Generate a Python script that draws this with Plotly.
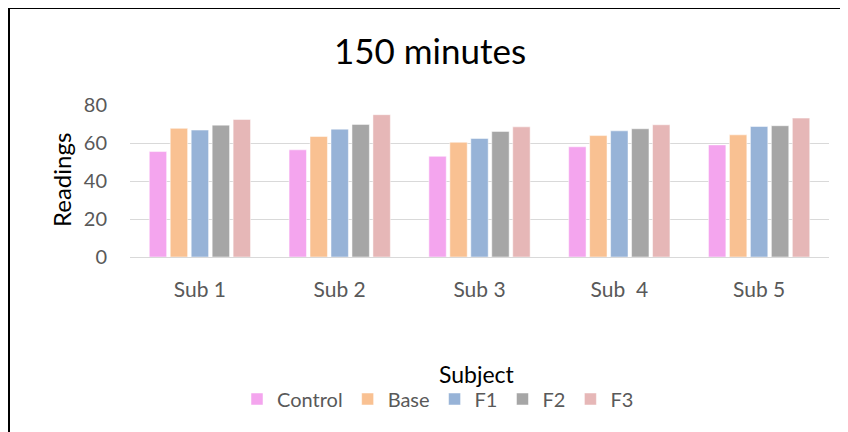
import plotly.graph_objects as go

categories = ["Sub 1", "Sub 2", "Sub 3", "Sub  4", "Sub 5"]
control = [55.5, 56.4, 53.0, 58.0, 59.0]
base = [67.7, 63.4, 60.4, 63.9, 64.3]
f1 = [66.8, 67.3, 62.4, 66.4, 68.7]
f2 = [69.4, 69.8, 66.1, 67.5, 69.1]
f3 = [72.4, 74.9, 68.5, 69.6, 73.1]
series_names = ["Control", "Base", "F1", "F2", "F3"]
series_values = [control, base, f1, f2, f3]
colors = ["#F4A5EE", "#F9C192", "#97B3D7", "#A6A6A6", "#E6B7B7"]
y_ticks = [0, 20, 40, 60, 80]

# page body has an 8px margin; figure coordinates = screen - OFF
OFF = 8
W, H = 848 - OFF, 432 - OFF
L, R, T, B = 130 - OFF, 848 - 829, 105 - OFF, 432 - 257
pw, ph = W - L - R, H - T - B

def px(x):
    return (x - OFF - L) / pw

def py(y):
    return (H - B - (y - OFF)) / ph

FONT = "Lato"
fig = go.Figure()
for name, vals, c in zip(series_names, series_values, colors):
    fig.add_trace(go.Bar(x=categories, y=vals, name=name,
                         marker=dict(color=c, line=dict(color="white", width=0.5))))

fig.update_layout(
    width=W, height=H,
    margin=dict(l=L, r=R, t=T, b=B),
    plot_bgcolor="white", paper_bgcolor="white",
    barmode="group", bargap=0.25, bargroupgap=0.17,
    font=dict(family=FONT, color="#595959"),
    title=dict(text="150 minutes", x=(430 - OFF) / W, xanchor="center",
               y=1 - (52 - OFF) / H, yanchor="middle",
               font=dict(family=FONT, size=35, color="black")),
    xaxis=dict(tickvals=categories, ticktext=[c.replace(" ", "\u00a0") for c in categories],
               showline=True, linecolor="#D9D9D9", linewidth=1, ticks="",
               tickfont=dict(size=21, color="#595959"), ticklabelstandoff=14),
    yaxis=dict(range=[0, 80], tickvals=y_ticks, showgrid=True, gridcolor="#D9D9D9", gridwidth=1,
               zeroline=True, zerolinecolor="#D9D9D9", zerolinewidth=1,
               tickfont=dict(size=20, color="#595959"), ticklabelstandoff=22, ticks=""),
    legend=dict(orientation="h", x=px(438), xanchor="center", y=py(399), yanchor="middle",
                font=dict(size=20, color="#595959"), itemwidth=30, traceorder="normal",
                bgcolor="rgba(0,0,0,0)"),
    showlegend=True,
)
fig.add_annotation(text="Readings", x=px(61), y=py(180), xref="paper", yref="paper",
                   textangle=-90, showarrow=False, xanchor="center", yanchor="middle",
                   font=dict(family=FONT, size=24, color="black"))
fig.add_annotation(text="Subject", x=px(477), y=py(374), xref="paper", yref="paper",
                   showarrow=False, xanchor="center", yanchor="middle",
                   font=dict(family=FONT, size=23, color="black"))
fig.add_shape(type="line", xref="paper", yref="paper", x0=px(8), x1=px(848), y0=py(8), y1=py(8),
              line=dict(color="black", width=2))
fig.add_shape(type="line", xref="paper", yref="paper", x0=px(9), x1=px(9), y0=py(8), y1=py(432),
              line=dict(color="black", width=2))

fig.write_html("out.html")
